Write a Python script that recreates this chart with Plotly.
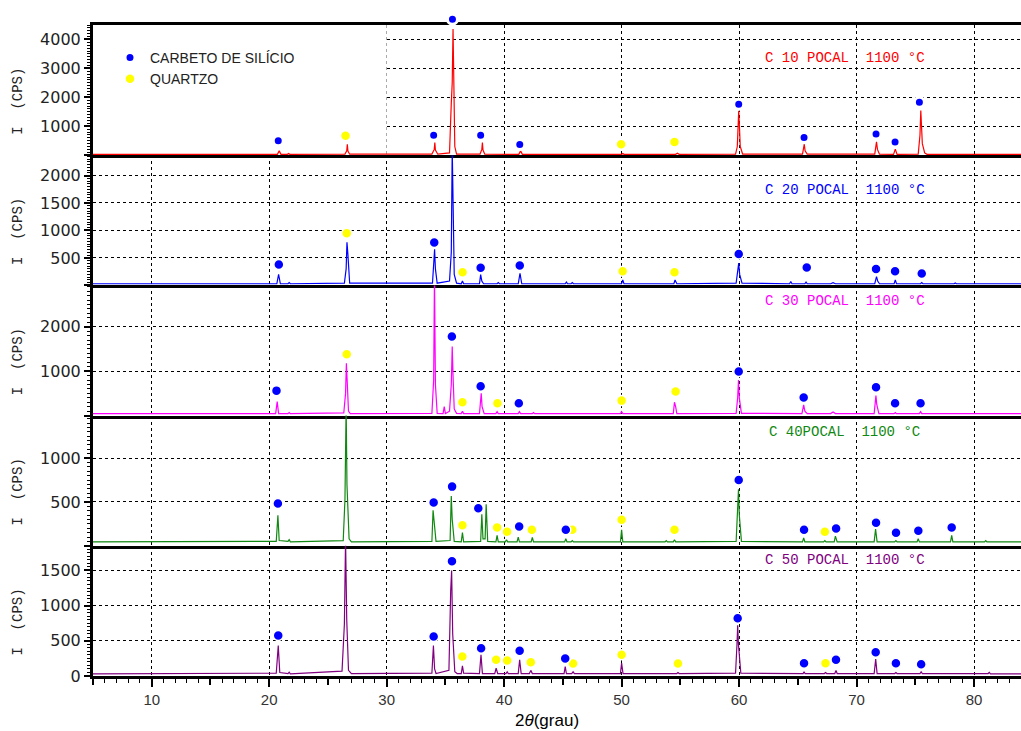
import plotly.graph_objects as go

# ---------------- data (2theta in degrees, intensity in CPS) ----------------
samples = ["C 10 POCAL  1100 °C", "C 20 POCAL  1100 °C", "C 30 POCAL  1100 °C",
           "C 40POCAL  1100 °C", "C 50 POCAL  1100 °C"]
line_colors = ["#ff0000", "#0000ff", "#ff00ff", "#118811", "#800080"]

c10_points = [(5, 30), (20.7, 30), (20.85, 150), (21.0, 30), (21.55, 30), (21.65, 60), (21.75, 30),
              (26.45, 40), (26.6, 150), (26.65, 380), (26.7, 140), (26.85, 35),
              (33.85, 40), (34.05, 200), (34.1, 440), (34.15, 180), (34.35, 35),
              (35.35, 80), (35.5, 1800), (35.58, 2500), (35.65, 4360), (35.72, 2500), (35.8, 300), (35.95, 40),
              (37.95, 40), (38.1, 200), (38.15, 440), (38.2, 180), (38.35, 35),
              (41.25, 30), (41.4, 150), (41.55, 30), (50.0, 30), (50.1, 60), (50.2, 30),
              (54.6, 30), (54.75, 70), (54.9, 30),
              (59.7, 40), (59.85, 300), (59.92, 1000), (59.97, 1540), (60.03, 1000), (60.1, 300), (60.3, 40),
              (65.4, 35), (65.55, 380), (65.62, 150), (65.8, 35),
              (71.55, 35), (71.7, 460), (71.78, 200), (71.95, 35),
              (73.15, 30), (73.3, 210), (73.45, 30),
              (75.25, 40), (75.4, 700), (75.47, 1540), (75.52, 1200), (75.6, 400), (75.8, 80), (76.0, 30),
              (84, 30)]

c20_points = [(5, 30), (20.65, 30), (20.8, 200), (20.95, 30), (21.6, 30), (21.7, 50), (21.8, 30),
              (26.4, 40), (26.55, 300), (26.62, 785), (26.7, 560), (26.85, 40),
              (33.9, 40), (34.02, 400), (34.08, 656), (34.15, 300), (34.3, 40),
              (35.35, 80), (35.5, 600), (35.58, 2500), (35.65, 1080), (35.75, 200), (35.95, 40),
              (36.35, 30), (36.45, 80), (36.55, 30), (37.9, 30), (38.0, 197), (38.1, 80), (38.25, 30),
              (39.4, 30), (39.5, 50), (39.6, 30), (41.2, 30), (41.35, 220), (41.5, 30),
              (45.2, 30), (45.3, 60), (45.4, 30), (45.7, 30), (45.8, 50), (45.9, 30),
              (50.0, 30), (50.1, 100), (50.2, 30), (54.45, 30), (54.55, 100), (54.7, 30),
              (59.75, 40), (59.9, 250), (59.97, 405), (60.05, 200), (60.25, 40),
              (64.3, 30), (64.4, 70), (64.5, 30), (65.6, 30), (65.7, 60), (65.8, 30),
              (67.8, 30), (68.0, 50), (68.2, 30), (71.55, 30), (71.7, 160), (71.8, 80), (71.95, 30),
              (73.2, 30), (73.3, 100), (73.4, 30), (75.45, 30), (75.55, 50), (75.65, 30),
              (78.3, 30), (78.4, 45), (78.5, 30), (84, 30)]

c30_points = [(5, 45), (16, 45), (16.5, 60), (17, 45), (20.55, 45), (20.68, 314), (20.8, 45),
              (21.6, 45), (21.7, 70), (21.8, 45),
              (26.35, 60), (26.5, 500), (26.57, 1180), (26.63, 833), (26.75, 100), (26.9, 45),
              (33.85, 50), (34.0, 800), (34.07, 3200), (34.15, 700), (34.3, 50),
              (34.8, 45), (34.9, 200), (35.0, 45),
              (35.35, 100), (35.5, 700), (35.58, 1555), (35.65, 900), (35.75, 150), (35.95, 50),
              (36.35, 45), (36.45, 100), (36.55, 45), (37.9, 45), (38.05, 503), (38.12, 200), (38.3, 45),
              (39.3, 45), (39.4, 90), (39.5, 45), (41.2, 45), (41.3, 90), (41.4, 45),
              (42.4, 45), (42.5, 70), (42.6, 45), (49.9, 45), (50.0, 90), (50.1, 45),
              (54.4, 45), (54.5, 300), (54.6, 200), (54.7, 45),
              (59.75, 50), (59.88, 400), (59.95, 803), (60.02, 400), (60.2, 50),
              (65.35, 45), (65.5, 240), (65.6, 100), (65.8, 45), (67.8, 45), (68.0, 80), (68.2, 45),
              (71.5, 45), (71.65, 450), (71.72, 250), (71.9, 45), (73.2, 45), (73.3, 70), (73.4, 45),
              (75.35, 45), (75.45, 90), (75.55, 45), (84, 45)]

c40_points = [(5, 45), (20.6, 50), (20.74, 349), (20.85, 60), (21.6, 50), (21.7, 70), (21.8, 45),
              (26.3, 60), (26.45, 530), (26.55, 1600), (26.62, 700), (26.8, 80), (27.0, 45),
              (33.85, 50), (33.95, 405), (34.05, 250), (34.2, 50),
              (35.4, 60), (35.5, 568), (35.58, 300), (35.75, 50), (36.35, 45), (36.45, 152), (36.55, 45),
              (38.0, 50), (38.1, 360), (38.2, 80), (38.38, 80), (38.47, 474), (38.6, 50),
              (39.3, 45), (39.4, 120), (39.5, 45), (40.1, 45), (40.2, 70), (40.3, 45),
              (41.1, 45), (41.2, 100), (41.3, 45), (42.3, 45), (42.4, 95), (42.5, 45),
              (45.15, 45), (45.25, 80), (45.35, 45), (45.7, 45), (45.8, 60), (45.9, 45),
              (49.9, 45), (50.0, 182), (50.1, 45), (53.7, 45), (53.8, 60), (53.9, 45),
              (54.4, 45), (54.5, 70), (54.6, 45),
              (59.75, 50), (59.88, 400), (59.95, 644), (60.02, 350), (60.2, 50),
              (65.4, 45), (65.5, 90), (65.6, 45), (67.2, 45), (67.3, 60), (67.4, 45),
              (68.1, 45), (68.2, 110), (68.35, 45), (71.5, 45), (71.62, 190), (71.75, 45),
              (73.25, 45), (73.35, 60), (73.45, 45), (75.15, 45), (75.25, 80), (75.35, 45),
              (78.0, 45), (78.1, 120), (78.2, 45), (80.9, 45), (81.0, 60), (81.1, 45), (84, 45)]

c50_points = [(5, 30), (20.6, 40), (20.77, 432), (20.9, 50), (21.6, 35), (21.7, 55), (21.8, 30),
              (26.2, 70), (26.4, 734), (26.5, 1950), (26.6, 800), (26.75, 80), (27.0, 35),
              (33.85, 40), (33.98, 432), (34.08, 100), (34.2, 35),
              (35.3, 80), (35.45, 1213), (35.53, 1500), (35.62, 600), (35.8, 60), (36.0, 35),
              (36.35, 35), (36.45, 144), (36.55, 40), (37.9, 35), (38.03, 302), (38.15, 35),
              (39.2, 35), (39.32, 110), (39.45, 35), (40.15, 35), (40.26, 60), (40.35, 35),
              (41.2, 35), (41.32, 230), (41.45, 35), (42.15, 35), (42.27, 80), (42.4, 35),
              (45.1, 35), (45.2, 134), (45.3, 35), (45.75, 35), (45.87, 60), (45.98, 35),
              (49.9, 35), (50.0, 182), (50.12, 35), (54.7, 35), (54.8, 50), (54.9, 35),
              (59.7, 40), (59.82, 440), (59.88, 720), (59.95, 440), (60.15, 40),
              (65.45, 35), (65.53, 60), (65.62, 35), (67.26, 35), (67.36, 50), (67.46, 35),
              (68.15, 35), (68.25, 80), (68.35, 35), (71.5, 35), (71.63, 240), (71.75, 35),
              (73.25, 35), (73.35, 50), (73.45, 35), (75.4, 35), (75.5, 60), (75.6, 35),
              (81.2, 35), (81.3, 50), (81.4, 30), (84, 30)]

# phase identification markers (2theta, marker height)
c10_sic = [(20.77, 500), (34.0, 690), (35.6, 4700), (38.0, 690), (41.33, 370), (59.97, 1760),
           (65.53, 610), (71.66, 730), (73.28, 460), (75.35, 1830)]
c10_qz = [(26.5, 670), (49.96, 380), (54.5, 460)]
c20_sic = [(20.82, 380), (34.05, 780), (38.0, 320), (41.33, 362), (59.97, 570), (65.76, 325),
           (71.66, 300), (73.28, 258), (75.55, 215)]
c20_qz = [(26.6, 950), (36.46, 240), (50.09, 258), (54.5, 240)]
c30_sic = [(20.62, 562), (35.55, 1780), (38.0, 660), (41.25, 277), (59.97, 990), (65.5, 405),
           (71.66, 640), (73.28, 277), (75.45, 277)]
c30_qz = [(26.6, 1383), (36.45, 300), (39.43, 277), (50.0, 337), (54.6, 540)]
c40_sic = [(20.74, 482), (34.0, 493), (35.57, 675), (37.8, 428), (41.28, 220), (45.25, 182),
           (59.97, 750), (65.53, 182), (68.26, 197), (71.66, 262), (73.36, 148), (75.26, 171), (78.1, 209)]
c40_qz = [(36.45, 235), (39.4, 209), (40.25, 160), (42.36, 182), (45.8, 182), (50.0, 296),
          (54.5, 182), (67.3, 160)]
c50_sic = [(20.77, 576), (34.0, 561), (35.56, 1630), (38.04, 393), (41.32, 360), (45.2, 250),
           (59.88, 820), (65.53, 182), (68.25, 230), (71.63, 336), (73.35, 182), (75.5, 168)]
c50_qz = [(36.44, 278), (39.32, 230), (40.26, 220), (42.27, 197), (45.87, 177), (50.0, 302),
          (54.8, 177), (67.36, 182)]

y_max = [4500, 2370, 2930, 1485, 1850]
y_ticks = [[0, 1000, 2000, 3000, 4000], [0, 500, 1000, 1500, 2000], [0, 1000, 2000],
           [0, 500, 1000], [0, 500, 1000, 1500]]
y_minor = [100, 50, 100, 50, 50]
x_range = [5, 84]
x_labels = [10, 20, 30, 40, 50, 60, 70, 80]
x_fives = [5, 15, 25, 35, 45, 55, 65, 75]

all_points = [c10_points, c20_points, c30_points, c40_points, c50_points]
all_sic = [c10_sic, c20_sic, c30_sic, c40_sic, c50_sic]
all_qz = [c10_qz, c20_qz, c30_qz, c40_qz, c50_qz]

SIC_COLOR = "#0000ff"
QZ_COLOR = "#ffff00"
GRID = dict(showgrid=True, gridcolor="#000000", gridwidth=1, griddash="3px,3px")

# ---------------- geometry ----------------
W, H = 1021, 731
M_L, M_R, M_T, M_B = 93, 0, 10, 55
PLOT_H = H - M_T - M_B          # 666 px of plotting area
STACK_H = 651                    # the five panels occupy the lower 651 px
n = 5
panel_h = STACK_H / n
dom = []
for i in range(n):
    top = (STACK_H - i * panel_h) / PLOT_H
    bot = (STACK_H - (i + 1) * panel_h) / PLOT_H
    dom.append((bot, top))
# extra invisible axis over the first panel (same scale) so the tallest marker may sit above its frame
ext_top = y_max[0] * (1.0 - dom[0][0]) / (dom[0][1] - dom[0][0])

fig = go.Figure()
for i in range(n):
    xa = "x" if i == 0 else f"x{i+1}"
    ya = "y" if i == 0 else f"y{i+1}"
    px_, py_ = zip(*all_points[i])
    fig.add_trace(go.Scatter(x=list(px_), y=list(py_), mode="lines", xaxis=xa, yaxis=ya,
                             line=dict(color=line_colors[i], width=1.2), showlegend=False,
                             hoverinfo="skip"))
    mxa, mya = (("x7", "y7") if i == 0 else (xa, ya))
    qx, qy = zip(*all_qz[i])
    fig.add_trace(go.Scatter(x=list(qx), y=list(qy), mode="markers", xaxis=mxa, yaxis=mya,
                             marker=dict(color=QZ_COLOR, size=10, line=dict(color="white", width=1.5)),
                             name="QUARTZO", legendgroup="qz", legendrank=2,
                             showlegend=(i == 0), cliponaxis=False))
    sx, sy = zip(*all_sic[i])
    fig.add_trace(go.Scatter(x=list(sx), y=list(sy), mode="markers", xaxis=mxa, yaxis=mya,
                             marker=dict(color=SIC_COLOR, size=10,
                                         line=dict(color="white", width=3 if i == 0 else 1.5)),
                             name="CARBETO DE SILÍCIO", legendgroup="sic", legendrank=1,
                             showlegend=(i == 0), cliponaxis=False))

# dummy trace for the overlay axis carrying the 5-step ticks
fig.add_trace(go.Scatter(x=[None], y=[None], xaxis="x6", yaxis="y5", showlegend=False))

layout = dict(
    width=W, height=H,
    margin=dict(l=M_L, r=M_R, t=M_T, b=M_B),
    paper_bgcolor="white", plot_bgcolor="rgba(0,0,0,0)",
    showlegend=True,
    legend=dict(x=(130 - 20 - M_L) / (W - M_L - M_R), y=(H - M_B - 42) / PLOT_H,
                xanchor="left", yanchor="top",
                bgcolor="rgba(0,0,0,0)", traceorder="normal", tracegroupgap=0,
                font=dict(family="Liberation Sans, Arial, sans-serif", size=14, color="#222222")),
)

for i in range(n):
    k = "" if i == 0 else str(i + 1)
    last = (i == n - 1)
    xdict = dict(domain=[0, 1], range=x_range, anchor=f"y{k}", tickvals=x_labels,
                 showline=True, linecolor="black", linewidth=3, mirror=(i == 0), zeroline=False,
                 **GRID)
    if last:
        xdict.update(ticks="outside", ticklen=8, tickwidth=1.5, tickcolor="black",
                     showticklabels=True,
                     tickfont=dict(family="Liberation Sans Narrow, Liberation Sans, Arial", size=15,
                                   color="#333333"),
                     minor=dict(dtick=1, ticks="outside", ticklen=4, tickwidth=1, tickcolor="black",
                                showgrid=False))
    else:
        xdict.update(ticks="", showticklabels=False)
    layout[f"xaxis{k}"] = xdict
    ttext = ["" if (v == 0 and not last) else str(v) for v in y_ticks[i]]
    layout[f"yaxis{k}"] = dict(domain=list(dom[i]), range=[0, y_max[i]], anchor=f"x{k}",
                               tickvals=y_ticks[i], ticktext=ttext,
                               ticks="outside", ticklen=6, tickwidth=2, tickcolor="black",
                               minor=dict(dtick=y_minor[i], ticks="outside", ticklen=3,
                                          tickwidth=1, tickcolor="black", showgrid=False),
                               showline=True, linecolor="black", linewidth=3, mirror=False,
                               zeroline=False,
                               tickfont=dict(family="DejaVu Sans, sans-serif", size=16,
                                             color="#222222"),
                               **GRID)

layout["xaxis6"] = dict(overlaying="x5", anchor="y5", range=x_range, side="bottom",
                        tickvals=x_fives, ticks="outside", ticklen=8, tickwidth=1.5,
                        tickcolor="black", showticklabels=False, showgrid=False,
                        showline=False, zeroline=False)
layout["xaxis7"] = dict(domain=[0, 1], range=x_range, anchor="y7", visible=False)
layout["yaxis7"] = dict(domain=[dom[0][0], 1.0], range=[0, ext_top], anchor="x7", visible=False)

annotations = []
label_y = [0.746, 0.73, 0.877, 0.877, 0.89]
for i in range(n):
    k = "" if i == 0 else str(i + 1)
    annotations.append(dict(text=samples[i], x=69, xref=f"x{k}", y=label_y[i], yref=f"y{k} domain",
                            xanchor="center", yanchor="middle", showarrow=False,
                            font=dict(family="Liberation Mono, Courier New, monospace", size=14,
                                      color=line_colors[i])))
    annotations.append(dict(text="I  (CPS)", x=(18 - M_L) / (W - M_L - M_R), xref="paper",
                            y=0.41, yref=f"y{k} domain",
                            textangle=-90, xanchor="center", yanchor="middle", showarrow=False,
                            font=dict(family="Liberation Mono, Courier New, monospace", size=14,
                                      color="#222222")))
annotations.append(dict(text="2<i>θ</i>(grau)", x=(547 - M_L) / (W - M_L - M_R), xref="paper",
                        y=(H - M_B - 720) / PLOT_H, yref="paper",
                        xanchor="center", yanchor="middle", showarrow=False,
                        font=dict(family="Liberation Sans Narrow, Liberation Sans, Arial", size=17,
                                  color="#000000")))
layout["annotations"] = annotations

# white box behind the legend (hides the grid there)
layout["shapes"] = [dict(type="rect", xref="x", yref="y", x0=5, x1=30, y0=0, y1=y_max[0],
                         fillcolor="white", line=dict(width=0), layer="between")]

fig.update_layout(**layout)
fig.write_html("out.html")
